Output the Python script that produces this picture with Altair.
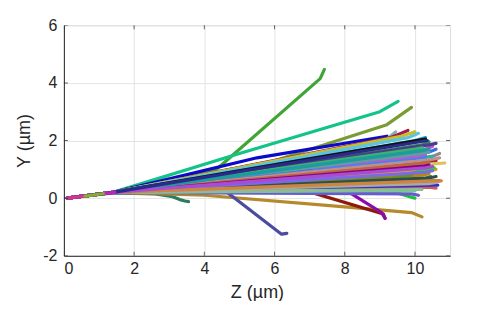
import altair as alt
import pandas as pd

# ---- data: each track is a list of (Z, Y) vertices, in µm ----
track_z = [
    [0.1, 1.4, 4.3, 7.3, 7.42],
    [0.1, 1.4, 5.0, 9.0, 9.52],
    [0.1, 1.4, 6.0, 9.2, 9.9],
    [0.1, 1.4, 5.5, 9.2],
    [0.1, 1.4, 2.6, 3.1, 3.3, 3.45, 3.55],
    [0.1, 1.4, 4.0, 8.0, 9.9, 10.2],
    [0.1, 1.4, 4.6, 6.2, 6.35],
    [0.1, 1.4, 6.5, 9.1, 9.15],
    [0.1, 1.4, 7.8, 9.05, 9.15],
    [0.1, 1.4, 9.3, 10.0],
    [0.1, 1.4, 9.2, 9.45],
    [0.1, 1.4, 9.3, 9.8],
    [0.1, 1.4, 9.6, 10.0],
    [0.1, 1.4, 9.8, 10.1],
    [0.1, 1.4, 10.0, 10.3],
    [0.1, 1.4, 10.3],
    [0.1, 1.4, 10.2, 10.4],
    [0.1, 1.4, 10.3, 10.5],
    [0.1, 1.4, 10.4, 10.6],
    [0.1, 1.4, 10.5, 10.7],
    [0.1, 1.4, 10.0, 10.2],
    [0.1, 1.4, 10.3, 10.5],
    [0.1, 1.4, 10.2, 10.4],
    [0.1, 1.4, 10.4, 10.6],
    [0.1, 1.4, 10.1, 10.3],
    [0.1, 1.4, 10.3, 10.5],
    [0.1, 1.4, 10.6, 10.85],
    [0.1, 1.4, 10.5, 10.7],
    [0.1, 1.4, 10.3, 10.5],
    [0.1, 1.4, 10.3, 10.45],
    [0.1, 1.4, 10.4, 10.6],
    [0.1, 1.4, 10.5, 10.65],
    [0.1, 1.4, 9.9, 10.1],
    [0.1, 1.4, 9.8, 10.0],
    [0.1, 1.4, 10.4, 10.6],
    [0.1, 1.4, 10.1, 10.3],
    [0.1, 1.4, 7.0, 10.2],
    [0.1, 1.4, 7.0, 10.1],
    [0.1, 1.4, 10.0, 10.2],
    [0.1, 1.4, 10.1, 10.3],
    [0.1, 1.4, 9.8, 10.0],
    [0.1, 1.4, 10.2, 10.4],
    [0.1, 1.4, 9.3, 9.9],
    [0.1, 1.4, 10.0, 10.2],
    [0.1, 1.4, 10.2, 10.4],
    [0.1, 1.4, 10.1, 10.3],
    [0.1, 1.4, 9.8, 10.0],
    [0.1, 1.4, 10.4, 10.55],
    [0.1, 1.4, 10.5, 10.7],
    [0.1, 1.4, 10.4, 10.6],
    [0.1, 1.4, 9.8, 10.0],
    [0.1, 1.4, 10.4, 10.6],
    [0.1, 1.4, 10.2, 10.4],
    [0.1, 1.4, 10.3, 10.5],
    [0.1, 1.4, 10.0, 10.2],
    [0.1, 1.4, 10.2, 10.4],
    [0.1, 1.4, 10.4, 10.6],
    [0.1, 1.4, 10.55, 10.75],
    [0.1, 1.4, 10.2, 10.4],
    [0.1, 1.4, 10.3, 10.5],
    [0.1, 1.4, 10.1, 10.35],
    [0.1, 0.6],
    [0.6, 1.2],
    [1.2, 1.45],
]
track_y = [
    [0.0, 0.2, 0.95, 4.15, 4.47],
    [0.0, 0.2, 1.55, 3.0, 3.36],
    [0.0, 0.2, 1.3, 2.55, 3.15],
    [0.0, 0.2, 1.4, 2.15],
    [0.0, 0.18, 0.15, 0.05, -0.05, -0.1, -0.12],
    [0.0, 0.2, 0.1, -0.3, -0.5, -0.65],
    [0.0, 0.2, 0.25, -1.25, -1.22],
    [0.0, 0.2, 0.4, -0.55, -0.7],
    [0.0, 0.2, 0.45, -0.5, -0.7],
    [0.0, 0.2, 0.25, 0.0],
    [0.0, 0.2, 2.05, 2.3],
    [0.0, 0.2, 2.1, 2.35],
    [0.0, 0.2, 2.15, 2.3],
    [0.0, 0.2, 2.1, 2.25],
    [0.0, 0.2, 2.0, 2.1],
    [0.0, 0.2, 2.05],
    [0.0, 0.2, 1.85, 1.95],
    [0.0, 0.2, 1.7, 1.8],
    [0.0, 0.2, 1.6, 1.7],
    [0.0, 0.2, 1.45, 1.55],
    [0.0, 0.2, 1.55, 1.6],
    [0.0, 0.2, 1.4, 1.45],
    [0.0, 0.2, 1.3, 1.35],
    [0.0, 0.2, 1.25, 1.3],
    [0.0, 0.2, 1.45, 1.5],
    [0.0, 0.2, 1.15, 1.2],
    [0.0, 0.2, 1.2, 1.22],
    [0.0, 0.2, 0.6, 0.6],
    [0.0, 0.2, 0.45, 0.5],
    [0.0, 0.2, 0.7, 0.75],
    [0.0, 0.2, 0.38, 0.35],
    [0.0, 0.2, 0.45, 0.45],
    [0.0, 0.2, 0.15, 0.1],
    [0.0, 0.2, 0.27, 0.25],
    [0.0, 0.2, 0.95, 1.0],
    [0.0, 0.2, 0.85, 0.9],
    [0.0, 0.2, 0.95, 1.1],
    [0.0, 0.2, 0.9, 1.25],
    [0.0, 0.2, 0.9, 0.95],
    [0.0, 0.2, 0.6, 0.65],
    [0.0, 0.2, 0.5, 0.55],
    [0.0, 0.2, 0.8, 0.85],
    [0.0, 0.2, 0.7, 0.8],
    [0.0, 0.2, 0.3, 0.3],
    [0.0, 0.2, 1.55, 1.6],
    [0.0, 0.2, 1.35, 1.4],
    [0.0, 0.2, 1.25, 1.3],
    [0.0, 0.2, 1.0, 1.05],
    [0.0, 0.2, 1.35, 1.4],
    [0.0, 0.2, 1.85, 1.9],
    [0.0, 0.2, 0.95, 1.0],
    [0.0, 0.2, 0.7, 0.75],
    [0.0, 0.2, 1.2, 1.25],
    [0.0, 0.2, 0.9, 0.95],
    [0.0, 0.2, 1.7, 1.75],
    [0.0, 0.2, 1.1, 1.15],
    [0.0, 0.2, 0.5, 0.55],
    [0.0, 0.2, 0.6, 0.6],
    [0.0, 0.2, 1.65, 1.7],
    [0.0, 0.2, 1.05, 1.1],
    [0.0, 0.2, 1.95, 2.0],
    [0.0, 0.07],
    [0.07, 0.17],
    [0.17, 0.2],
]
track_colors = [
    "#3fa535", "#12c48a", "#7a9c32", "#0a0acb", "#2b7d5e", "#b5892c",
    "#4a4c9e", "#8b1c0c", "#8e0ca6", "#19c23c", "#7fb3a8", "#a3195b",
    "#c8c020", "#5fc3e0", "#1aa6b5", "#111111", "#2e8b57", "#c24fd6",
    "#4169e1", "#8a8a8a", "#d2691e", "#20b2aa", "#9acd32", "#b22222",
    "#ba55d3", "#00ced1", "#e0c060", "#8b4513", "#4b0082", "#228b22",
    "#cd5c5c", "#3333cc", "#6a5acd", "#66cdaa", "#d4a017", "#a0522d",
    "#c71585", "#e0603a", "#708090", "#9370db", "#556b2f", "#b8860b",
    "#6b8e23", "#8fbc8f", "#5f9ea0", "#1e90ff", "#9932cc", "#32cd32",
    "#bc8f8f", "#483d8b", "#daa520", "#2f4f4f", "#c0643a", "#7b68ee",
    "#3cb371", "#8b008b", "#a9a9a9", "#cd853f", "#1c9c9c", "#a64dd1",
    "#2a2a8a",
    "#d6338f", "#8fa832", "#c21fc2",
]

x_ticks = [0, 2, 4, 6, 8, 10]
y_ticks = [-2, 0, 2, 4, 6]

rows = []
for k, (zs, ys) in enumerate(zip(track_z, track_y)):
    for i, (z, y) in enumerate(zip(zs, ys)):
        rows.append({"track": f"t{k:02d}", "i": i, "Z": z, "Y": y})
df = pd.DataFrame(rows)
track_ids = [f"t{k:02d}" for k in range(len(track_z))]

FONT = "Liberation Sans"
AX = "#262626"

xscale = alt.Scale(domain=[0, 11], nice=False, zero=False)
yscale = alt.Scale(domain=[-2, 6], nice=False, zero=False)

lines = alt.Chart(df).mark_line(strokeWidth=3.2, strokeCap="round", strokeJoin="round", clip=True).encode(
    x=alt.X("Z:Q", scale=xscale, title="Z (µm)",
            axis=alt.Axis(values=x_ticks, ticks=False, grid=True, gridColor="#e3e3e3",
                          domainColor=AX, labelColor=AX, labelFont=FONT, labelFontSize=16,
                          labelPadding=5, titleFont=FONT, titleFontSize=18,
                          titleFontWeight="normal", titleColor=AX, titlePadding=7)),
    y=alt.Y("Y:Q", scale=yscale, title="Y (µm)",
            axis=alt.Axis(values=y_ticks, ticks=False, grid=True, gridColor="#e3e3e3",
                          domainColor=AX, labelColor=AX, labelFont=FONT, labelFontSize=16,
                          labelPadding=7, labelExpr="datum.value + ''",
                          titleFont=FONT, titleFontSize=18, titleFontWeight="normal",
                          titleColor=AX, titlePadding=9)),
    color=alt.Color("track:N", scale=alt.Scale(domain=track_ids, range=track_colors), legend=None),
    detail="track:N",
    order="i:Q",
)

xt = pd.DataFrame({"v": x_ticks})
yt = pd.DataFrame({"v": y_ticks})

bottom_ticks = alt.Chart(xt).mark_tick(orient="vertical", size=8, thickness=1, color=AX, clip=True).encode(
    x=alt.X("v:Q", scale=xscale), y=alt.datum(-2, scale=yscale))
top_ticks = alt.Chart(xt).mark_tick(orient="vertical", size=8, thickness=1, color=AX, clip=True).encode(
    x=alt.X("v:Q", scale=xscale), y=alt.datum(6, scale=yscale))
left_ticks = alt.Chart(yt).mark_tick(orient="horizontal", size=8, thickness=1, color=AX, clip=True).encode(
    y=alt.Y("v:Q", scale=yscale), x=alt.datum(0, scale=xscale))
right_ticks = alt.Chart(yt).mark_tick(orient="horizontal", size=8, thickness=1, color=AX, clip=True).encode(
    y=alt.Y("v:Q", scale=yscale), x=alt.datum(11, scale=xscale))

chart = alt.layer(lines, bottom_ticks, top_ticks, left_ticks, right_ticks).properties(
    width=387, height=231,
    autosize=alt.AutoSizeParams(type="none"),
    padding={"left": 56, "top": 17, "right": 40, "bottom": 45},
).configure_view(stroke=AX, strokeWidth=1).configure(background="white")

chart.save("out.html", embed_options={"renderer": "svg", "actions": False})
